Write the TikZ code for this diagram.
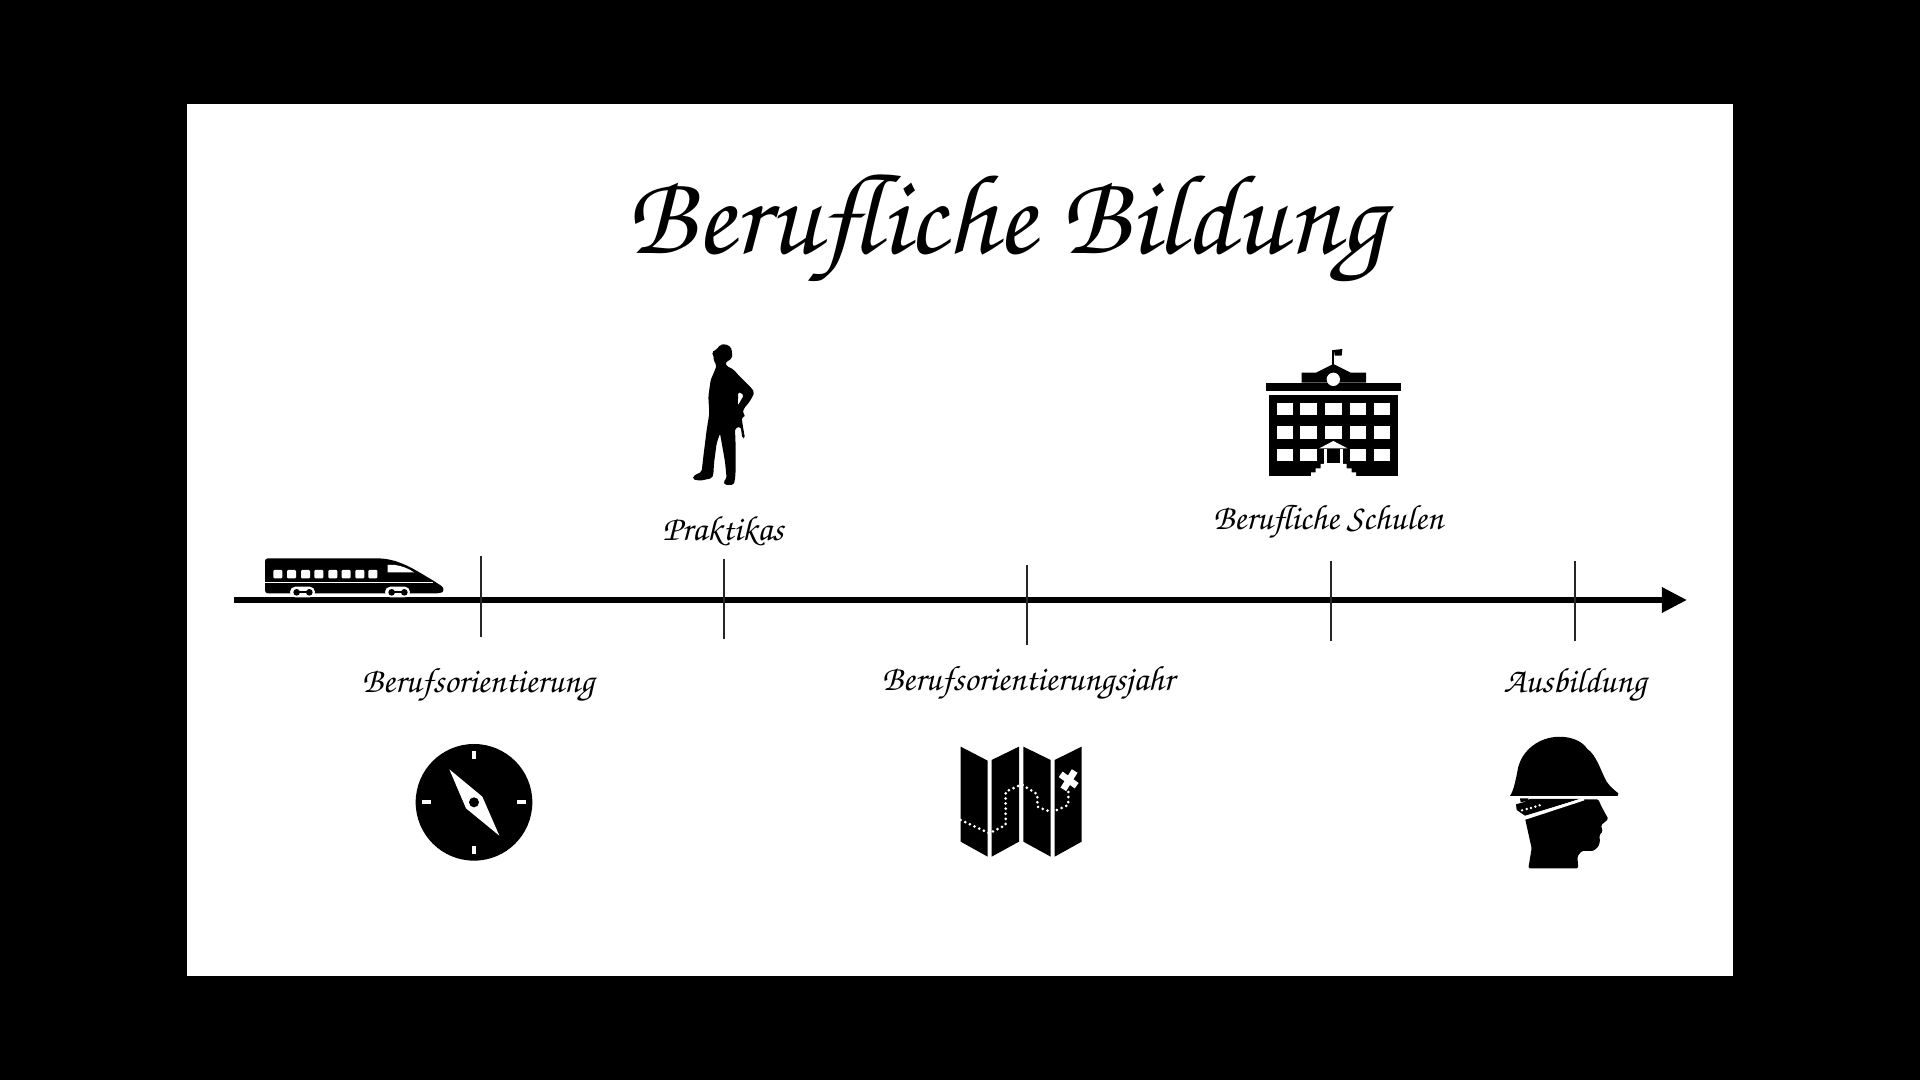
\documentclass[tikz,border=0pt]{standalone}
\usepackage[T1,TU]{fontenc}
\usetikzlibrary{arrows.meta}
\newcommand{\handfont}{\usefont{T1}{pzc}{m}{it}}
\begin{document}
\begin{tikzpicture}[
	x=0.01cm, y=-0.01cm,
	axis/.style={ line width=1.7pt, -{Triangle[length=0.25cm,width=0.24cm]} },
	tick/.style={ line width=0.45pt, black!85!white },
	label/.style={ inner sep=0pt, font=\handfont\fontsize{10}{12}\selectfont },
	zoomed/.style={ x=0.01cm/3, y=-0.01cm/3 },
	blank/.style={ fill=white, draw=none },
	route/.style={ white, line width=0.85pt, line cap=round, dash pattern=on 0pt off 1.45pt }
]
\useasboundingbox (0,0) rectangle (1920,1080);
\fill[black] (0,0) rectangle (1920,1080);
\fill[white] (187,104) rectangle (1733,976);

\node[inner sep=0pt, font=\handfont\fontsize{32.5}{38}\selectfont] at (1006,230) (title) {Berufliche Bildung};

% time line
\coordinate (axisa) at (234,600);
\coordinate (axisb) at (1687,600);
\draw[axis] (axisa) to (axisb);
\foreach \n/\x/\a/\b in {a/481/556/637,b/724/559/639,c/1027/565/645,d/1331/561/641,e/1575/561/641} {
	\coordinate (tick\n1) at (\x,\a);
	\coordinate (tick\n2) at (\x,\b);
	\draw[tick] (tick\n1) to (tick\n2);
}

\node[label] at (478,685) (lbla) {Berufsorientierung};
\node[label] at (723,531) (lblb) {Praktikas};
\node[label] at (1028,683) (lblc) {Berufsorientierungsjahr};
\node[label] at (1328,522) (lbld) {Berufliche Schulen};
\node[label] at (1575,685) (lble) {Ausbildung};

% train
\begin{scope}[shift={(240,540)}, zoomed]
\fill[rounded corners=0.8pt] (75,55) -- (400,55) .. controls (470,55) and (510,80) .. (580,122) -- (597,133) .. controls (612,143) and (612,155) .. (598,160) -- (75,160) -- cycle;
\fill[white] (75,125) rectangle (580,130);
\foreach \x in {100,141,183,223,265,305,346,385} \fill[blank, rounded corners=0.3pt] (\x,90) rectangle ++(27,25);
\fill[blank] (443,75) -- (465,75) .. controls (485,78) and (505,85) .. (522,97) -- (443,97) -- cycle;
\foreach \x in {150,435} {
	\fill[blank, rounded corners=1.5pt] (\x,172) -- (\x,140) -- ++(75,0) -- ++(0,32) -- cycle;
	\draw[line width=0.5pt] (\x+20,157) to ++(38,0);
	\fill (\x+20,157) circle (10);
	\fill (\x+58,157) circle (10);
}
\end{scope}

% worker
\begin{scope}[shift={(670,330)}, zoomed]
\fill[rounded corners=0.5pt, even odd rule] (125,67) -- (140,58) -- (150,45) -- (165,42) -- (182,50) -- (187,70) -- (186,85) -- (175,92) -- (165,100) -- (170,108) -- (190,118) -- (205,135) -- (225,155) -- (245,175) -- (253,187) -- (245,205) -- (235,220) -- (222,235) -- (218,250) -- (228,258) -- (215,262) -- (218,285) -- (225,325) -- (217,325) -- (212,290) -- (195,295) -- (197,350) -- (197,420) -- (195,450) -- (190,465) -- (165,465) -- (160,455) -- (170,445) -- (165,395) -- (150,310) -- (140,340) -- (132,400) -- (130,435) -- (125,445) -- (90,452) -- (68,448) -- (70,438) -- (95,425) -- (100,380) -- (110,300) -- (118,250) -- (115,200) -- (122,150) -- (135,120) -- (140,105) -- (132,95) -- (130,75) -- cycle
	(205,185) -- (222,195) -- (203,228) -- cycle;
\end{scope}

% school
\begin{scope}[shift={(1250,340)}, zoomed]
\fill (47,128) rectangle (453,153);
\fill (155,128) -- (155,98) -- (198,98) -- (250,72) -- (302,98) -- (348,98) -- (348,128) -- cycle;
\fill[white] (250,118) circle (20);
\draw[line width=0.5pt] (250,75) to (250,30);
\fill (252,30) -- (277,27) -- (275,47) -- (254,47) -- cycle;
\fill (57,165) rectangle (443,408);
\foreach \y in {188,258,326} \foreach \x in {80,151,225,299,371} \fill[blank] (\x,\y) rectangle ++(50,38);
\fill (205,326) rectangle (295,372);
\fill[blank] (208,325) -- (250,303) -- (292,325) -- cycle;
\fill[blank] (222,328) rectangle (280,372);
\fill (232,328) rectangle (270,370);
\fill[blank] (183,408) -- (183,397) -- (197,397) -- (197,385) -- (212,385) -- (212,372) -- (290,372) -- (290,385) -- (305,385) -- (305,397) -- (318,397) -- (318,408) -- cycle;
\end{scope}

% compass
\begin{scope}[shift={(400,730)}, zoomed]
\fill (222,217) circle (175);
\fill[blank] (216,62) rectangle (228,88);
\fill[blank] (216,347) rectangle (228,373);
\fill[blank] (66,211) rectangle (92,223);
\fill[blank] (352,211) rectangle (378,223);
\fill[blank] (148,118) -- (247,200) -- (298,317) -- (198,235) -- cycle;
\fill (222,217) circle (15);
\end{scope}

% map
\begin{scope}[shift={(950,735)}, zoomed]
\fill (32,35) -- (113,77) -- (113,365) -- (32,320) -- cycle;
\fill (125,75) -- (207,35) -- (207,320) -- (125,365) -- cycle;
\fill (220,35) -- (302,75) -- (302,365) -- (220,320) -- cycle;
\fill (314,75) -- (395,35) -- (395,320) -- (314,365) -- cycle;
\draw[route] (32,255) -- (118,295) -- (167,270) -- (167,170) -- (215,148) -- (262,178) -- (262,215) -- (305,232) -- (355,210) -- (355,165);
\draw[white, line width=1.9pt] (340,163) to (374,108);
\draw[white, line width=1.9pt] (332,118) to (380,152);
\end{scope}

% helmet and head
\begin{scope}[shift={(1500,725)}, zoomed]
\fill (30,213) .. controls (42,195) and (48,160) .. (55,125) .. controls (65,85) and (105,42) .. (165,36) .. controls (205,32) and (245,45) .. (262,72) .. controls (290,90) and (305,145) .. (320,170) .. controls (330,185) and (345,197) .. (355,205) -- (353,213) -- cycle;
\fill[rounded corners=0.4pt] (240,223) -- (295,223) -- (300,235) -- (310,255) -- (325,282) -- (310,295) -- (303,300) -- (308,320) -- (298,330) -- (300,350) -- (295,365) -- (280,378) -- (245,378) -- (232,395) -- (235,430) -- (85,430) -- (95,370) -- (85,325) -- (75,280) -- cycle;
\fill (48,238) -- (70,232) -- (90,222) -- (240,222) -- (75,272) -- (50,255) -- cycle;
\fill (60,220) -- (85,220) -- (85,226) -- (62,232) -- cycle;
\draw[white, line width=0.8pt] (75,280) to (252,222);
\foreach \x/\y in {66/256,80/252,93/249,106/245,119/241} \fill[white] (\x,\y) circle (4);
\end{scope}

\end{tikzpicture}
\end{document}
